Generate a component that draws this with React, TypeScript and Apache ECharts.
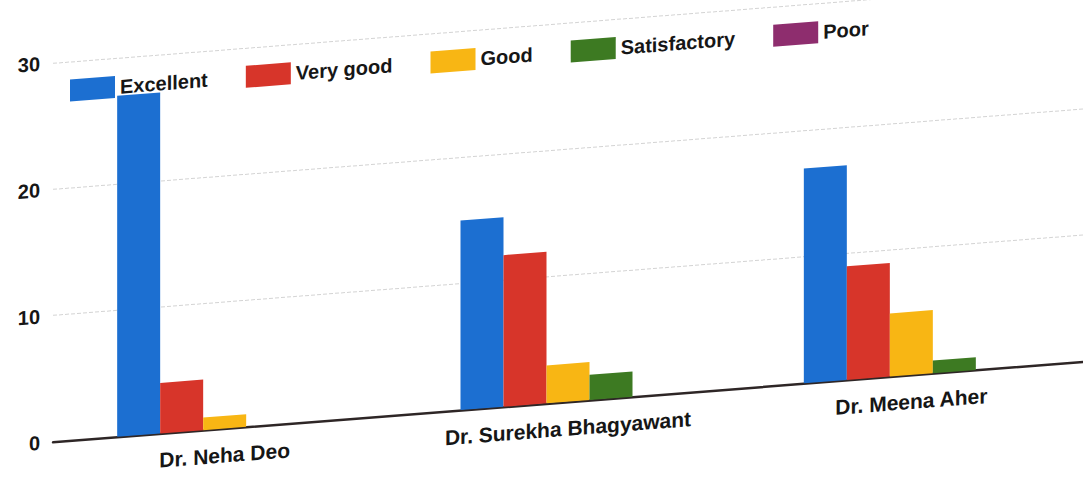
import React, { useEffect, useRef } from "react";
import * as echarts from "echarts";

const categories = ["Dr. Neha Deo", "Dr. Surekha Bhagyawant", "Dr. Meena Aher"];
const seriesNames = ["Excellent", "Very good", "Good", "Satisfactory", "Poor"];
const excellent = [27, 15, 17];
const veryGood = [4, 12, 9];
const good = [1, 3, 5];
const satisfactory = [0, 2, 1];
const poor = [0, 0, 0];
const colors = ["#1c6fd1", "#d7352a", "#f8b614", "#3d7a22", "#8e2d6e"];
const yTicks = { min: 0, max: 30, interval: 10 };

const seriesData = [excellent, veryGood, good, satisfactory, poor];

export default function App() {
  const ref = useRef<HTMLDivElement>(null);
  useEffect(() => {
    if (!ref.current) return;
    const chart = echarts.init(ref.current, undefined, { renderer: "svg" });
    const font = "'Liberation Sans', Arial, sans-serif";
    chart.setOption({
      animation: false,
      backgroundColor: "#ffffff",
      color: colors,
      textStyle: { fontFamily: font },
      legend: {
        left: 65,
        top: 80,
        itemWidth: 45,
        itemHeight: 22,
        itemGap: 38,
        icon: "rect",
        textStyle: { fontSize: 20, fontWeight: "bold", color: "#161616", fontFamily: font },
        data: seriesNames,
      },
      grid: { left: 53, right: -3, top: 67, height: 379, containLabel: false },
      xAxis: {
        type: "category",
        data: categories,
        axisLine: { lineStyle: { color: "#2e2626", width: 2.5 } },
        axisTick: { show: false },
        axisLabel: {
          interval: 0,
          fontSize: 21,
          fontWeight: "bold",
          color: "#161616",
          margin: 16,
          fontFamily: font,
        },
        splitLine: { show: false },
      },
      yAxis: {
        type: "value",
        min: yTicks.min,
        max: yTicks.max,
        interval: yTicks.interval,
        axisLine: { show: false },
        axisTick: { show: false },
        axisLabel: { fontSize: 20, fontWeight: "bold", color: "#161616", margin: 13, fontFamily: font },
        splitLine: { lineStyle: { color: "#d4d4d4", type: "dashed", width: 1 } },
      },
      series: seriesNames.map((name, i) => ({
        name,
        type: "bar",
        data: seriesData[i],
        barWidth: 43,
        barGap: "0%",
        itemStyle: { color: colors[i] },
      })),
    });
    return () => chart.dispose();
  }, []);
  return (
    <div
      style={{
        position: "fixed",
        left: 0,
        top: 0,
        width: 1083,
        height: 477,
        overflow: "hidden",
        background: "#ffffff",
      }}
    >
      <div
        style={{
          width: 1083,
          height: 560,
          transform: "skewY(-4.46deg)",
          transformOrigin: "0 0",
        }}
      >
        <div ref={ref} style={{ width: 1083, height: 560 }} />
      </div>
    </div>
  );
}
